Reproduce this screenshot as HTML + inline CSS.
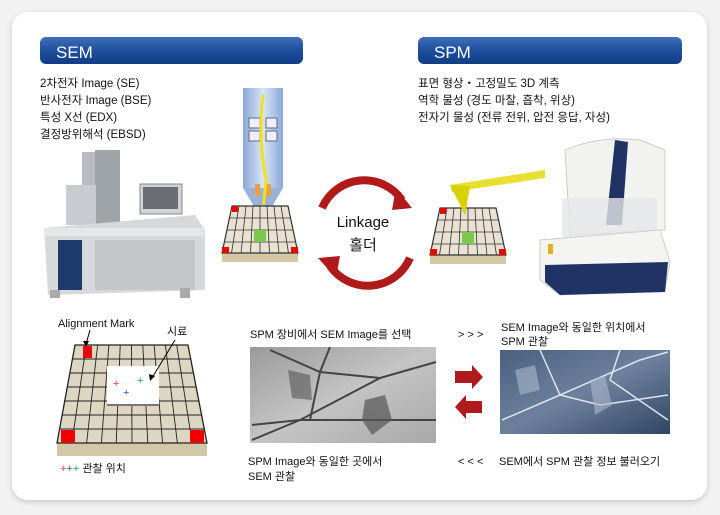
<!DOCTYPE html>
<html><head><meta charset="utf-8"><style>
html,body{margin:0;padding:0;background:#f2f2f2;}
svg{display:block;font-family:"Liberation Sans","Noto Sans CJK KR",sans-serif;}
</style></head><body>
<svg width="720" height="515" viewBox="0 0 720 515" xmlns="http://www.w3.org/2000/svg">
<defs>
<linearGradient id="bar" x1="0" y1="0" x2="0" y2="1"><stop offset="0" stop-color="#3d6fb8"/><stop offset="0.5" stop-color="#1d4f9e"/><stop offset="1" stop-color="#123d86"/></linearGradient>
<linearGradient id="col" x1="0" y1="0" x2="1" y2="0"><stop offset="0" stop-color="#8aa8d8"/><stop offset="0.5" stop-color="#d8e6f6"/><stop offset="1" stop-color="#8aa8d8"/></linearGradient>
<linearGradient id="semimg" x1="0" y1="0" x2="1" y2="1"><stop offset="0" stop-color="#9a9a9a"/><stop offset="0.5" stop-color="#c4c4c4"/><stop offset="1" stop-color="#a8a8a8"/></linearGradient>
<linearGradient id="spmimg" x1="0" y1="0" x2="1" y2="1"><stop offset="0" stop-color="#4a6080"/><stop offset="0.5" stop-color="#6d819e"/><stop offset="1" stop-color="#304564"/></linearGradient>
<filter id="sh" x="-5%" y="-5%" width="110%" height="110%"><feDropShadow dx="0" dy="2" stdDeviation="3" flood-color="#000" flood-opacity="0.18"/></filter>
</defs>
<rect x="12" y="12" width="695" height="488" rx="16" fill="#fff" filter="url(#sh)"/>
<rect x="40" y="37" width="263" height="27" rx="6" fill="url(#bar)"/>
<text x="56" y="58" font-size="17" fill="#fff">SEM</text>
<rect x="418" y="37" width="264" height="27" rx="6" fill="url(#bar)"/>
<text x="434" y="58" font-size="17" fill="#fff">SPM</text>
<g font-size="11.5" fill="#111">
<text x="40" y="87">2차전자 Image (SE)</text>
<text x="40" y="104">반사전자 Image (BSE)</text>
<text x="40" y="121">특성 X선 (EDX)</text>
<text x="40" y="138">결정방위해석 (EBSD)</text>
<text x="418" y="87">표면 형상・고정밀도 3D 계측</text>
<text x="418" y="104">역학 물성 (경도 마찰, 흡착, 위상)</text>
<text x="418" y="121">전자기 물성 (전류 전위, 압전 응답, 자성)</text>
</g>
<g>
<rect x="82" y="152" width="36" height="70" fill="#b8bcc0"/>
<rect x="95" y="150" width="25" height="75" fill="#9ea4a8"/>
<rect x="66" y="185" width="30" height="40" fill="#c8ccd0"/>
<rect x="140" y="184" width="42" height="30" fill="#cfd3d6" stroke="#888"/>
<rect x="143" y="187" width="35" height="22" fill="#6a6e72"/>
<path d="M44 228 L195 215 L205 230 L205 290 L48 295 Z" fill="#d6d8da"/>
<rect x="44" y="228" width="160" height="8" fill="#e4e6e8"/>
<rect x="58" y="240" width="24" height="50" fill="#1f3b6e"/>
<rect x="95" y="240" width="100" height="50" fill="#c4c7ca"/>
<rect x="50" y="290" width="10" height="8" fill="#aaa"/><rect x="180" y="288" width="10" height="10" fill="#aaa"/>
</g>
<rect x="243" y="88" width="40" height="100" fill="url(#col)"/>
<path d="M243 188 L283 188 L270 210 L256 210 Z" fill="#9ab2d8"/>
<rect x="249" y="118" width="11" height="10" fill="#eef" stroke="#667"/><rect x="266" y="118" width="11" height="10" fill="#eef" stroke="#667"/>
<rect x="249" y="131" width="11" height="10" fill="#eef" stroke="#667"/><rect x="266" y="131" width="11" height="10" fill="#eef" stroke="#667"/>
<rect x="255" y="184" width="5" height="12" fill="#e8a040"/><rect x="266" y="184" width="5" height="12" fill="#e8a040"/>
<path d="M263 95 Q258 140 266 180 L262 220" stroke="#f0e020" stroke-width="3" fill="none"/>
<g id="grid1">
<path d="M222 253 L298 253 L298 262 L222 262 Z" fill="#d2c8a4"/>
<path d="M232 206 L288 206 L298 253 L222 253 Z" fill="#e8e2d2" stroke="#333" stroke-width="1.2"/>
<g stroke="#333" stroke-width="0.8">
<line x1="229.5" y1="218" x2="290.5" y2="218"/><line x1="227" y1="230" x2="293" y2="230"/><line x1="224.5" y1="242" x2="295.5" y2="242"/>
<line x1="239" y1="206" x2="231.5" y2="253"/><line x1="246" y1="206" x2="241" y2="253"/><line x1="253" y1="206" x2="250.5" y2="253"/><line x1="260" y1="206" x2="260" y2="253"/><line x1="267" y1="206" x2="269.5" y2="253"/><line x1="274" y1="206" x2="279" y2="253"/><line x1="281" y1="206" x2="288.5" y2="253"/>
</g>
<rect x="254" y="230" width="12" height="12" fill="#7bc84a"/>
<rect x="232" y="206" width="6" height="6" fill="#e00"/><rect x="222" y="247" width="7" height="6" fill="#e00"/><rect x="291" y="247" width="7" height="6" fill="#e00"/>
</g>
<use href="#grid1" transform="translate(208,2)"/>
<path d="M450 185 L545 170 L545 178 L452 192 Z" fill="#e8e030"/>
<path d="M450 185 L470 186 L465 215 Z" fill="#d8d000"/>
<path d="M565 150 Q600 135 640 140 L665 150 L665 230 L570 235 Z" fill="#f2f2f0" stroke="#ccc"/>
<path d="M615 140 L628 142 L622 225 L606 225 Z" fill="#1f3464"/>
<rect x="562" y="198" width="95" height="40" rx="4" fill="#e4e6e8" opacity="0.8"/>
<path d="M540 240 L660 230 L670 262 L665 290 L560 295 L540 280 Z" fill="#f4f4f2" stroke="#ccc"/>
<path d="M545 265 L668 262 L665 292 L560 295 L545 282 Z" fill="#1f3464"/>
<rect x="548" y="244" width="5" height="10" fill="#e0b020"/>
<path d="M322 208 A46 46 0 0 1 402 200" stroke="#b01a1a" stroke-width="8" fill="none"/>
<path d="M396 188 L412 208 L392 210 Z" fill="#b01a1a"/>
<path d="M410 258 A46 46 0 0 1 330 266" stroke="#b01a1a" stroke-width="8" fill="none"/>
<path d="M336 278 L318 258 L340 256 Z" fill="#b01a1a"/>
<text x="363" y="227" font-size="15" text-anchor="middle" fill="#111">Linkage</text>
<text x="363" y="250" font-size="15" text-anchor="middle" fill="#111">홀더</text>
<path d="M57 443 L207 443 L207 456 L57 456 Z" fill="#d0c8a6"/>
<path d="M75 345 L188 345 L207 443 L57 443 Z" fill="#ddd6c2" stroke="#222" stroke-width="1.3"/>
<g stroke="#222" stroke-width="0.9">
<line x1="72.3" y1="359" x2="190.7" y2="359"/><line x1="69.6" y1="373" x2="193.4" y2="373"/><line x1="67" y1="387" x2="196" y2="387"/><line x1="64.3" y1="401" x2="198.7" y2="401"/><line x1="61.6" y1="415" x2="201.4" y2="415"/><line x1="59" y1="429" x2="204" y2="429"/>
<line x1="86.3" y1="345" x2="71.8" y2="443"/><line x1="97.6" y1="345" x2="86.6" y2="443"/><line x1="108.9" y1="345" x2="101.4" y2="443"/><line x1="120.2" y1="345" x2="116.2" y2="443"/><line x1="131.5" y1="345" x2="132" y2="443"/><line x1="142.8" y1="345" x2="147.8" y2="443"/><line x1="154.1" y1="345" x2="162.6" y2="443"/><line x1="165.4" y1="345" x2="177.4" y2="443"/><line x1="176.7" y1="345" x2="192.2" y2="443"/>
</g>
<rect x="107" y="366" width="52" height="38" fill="#fff"/>
<line x1="107" y1="405" x2="159" y2="405" stroke="#777" stroke-width="2"/>
<text x="113" y="387" font-size="11" fill="#e04040">+</text><text x="137" y="384" font-size="11" fill="#20a060">+</text><text x="123" y="396" font-size="11" fill="#3060c0">+</text>
<rect x="83" y="346" width="9" height="12" fill="#e00"/><rect x="61" y="430" width="14" height="13" fill="#e00"/><rect x="190" y="430" width="14" height="13" fill="#e00"/>
<line x1="90" y1="330" x2="86" y2="344" stroke="#000"/><path d="M83 341 L86 347 L89 341 Z"/>
<line x1="175" y1="340" x2="152" y2="378" stroke="#000"/><path d="M149 374 L150 381 L155 376 Z"/>
<g font-size="11" fill="#111">
<text x="58" y="327">Alignment Mark</text>
<text x="167" y="335">시료</text>
<text x="60" y="472"><tspan fill="#e04040">+</tspan><tspan fill="#3060c0">+</tspan><tspan fill="#20a060">+</tspan> 관찰 위치</text>
<text x="250" y="338">SPM 장비에서 SEM Image를 선택</text>
<text x="458" y="338">&gt; &gt; &gt;</text>
<text x="501" y="331">SEM Image와 동일한 위치에서</text>
<text x="501" y="345">SPM 관찰</text>
<text x="248" y="465">SPM Image와 동일한 곳에서</text>
<text x="248" y="480">SEM 관찰</text>
<text x="458" y="465">&lt; &lt; &lt;</text>
<text x="499" y="465">SEM에서 SPM 관찰 정보 불러오기</text>
</g>
<rect x="250" y="347" width="186" height="96" fill="url(#semimg)"/>
<g stroke="#444" stroke-width="2" fill="none">
<path d="M252 440 L300 420 L380 378 L436 362"/><path d="M270 350 L320 372 L380 378"/><path d="M330 347 L320 372 L310 420"/><path d="M252 425 L300 420 L436 420"/>
</g>
<path d="M288 370 L310 375 L312 400 L292 398 Z" fill="#555" opacity="0.6"/>
<path d="M365 400 L385 395 L392 420 L372 435 L362 420 Z" fill="#555" opacity="0.7"/>
<rect x="500" y="350" width="170" height="84" fill="url(#spmimg)"/>
<g stroke="#dde4ee" stroke-width="1.5" fill="none">
<path d="M502 420 L560 395 L640 360 L668 352"/><path d="M540 350 L560 395 L600 405 L668 395"/><path d="M620 350 L610 380 L668 420"/>
</g>
<path d="M515 370 L535 365 L540 390 L520 395 Z" fill="#aab8cc" opacity="0.6"/>
<path d="M590 380 L605 376 L612 405 L595 415 Z" fill="#aab8cc" opacity="0.6"/>
<path d="M455 371 L472 371 L472 365 L483 377 L472 389 L472 383 L455 383 Z" fill="#b01a1a"/>
<path d="M482 401 L466 401 L466 395 L455 407 L466 419 L466 413 L482 413 Z" fill="#b01a1a"/>
</svg>
</body></html>
